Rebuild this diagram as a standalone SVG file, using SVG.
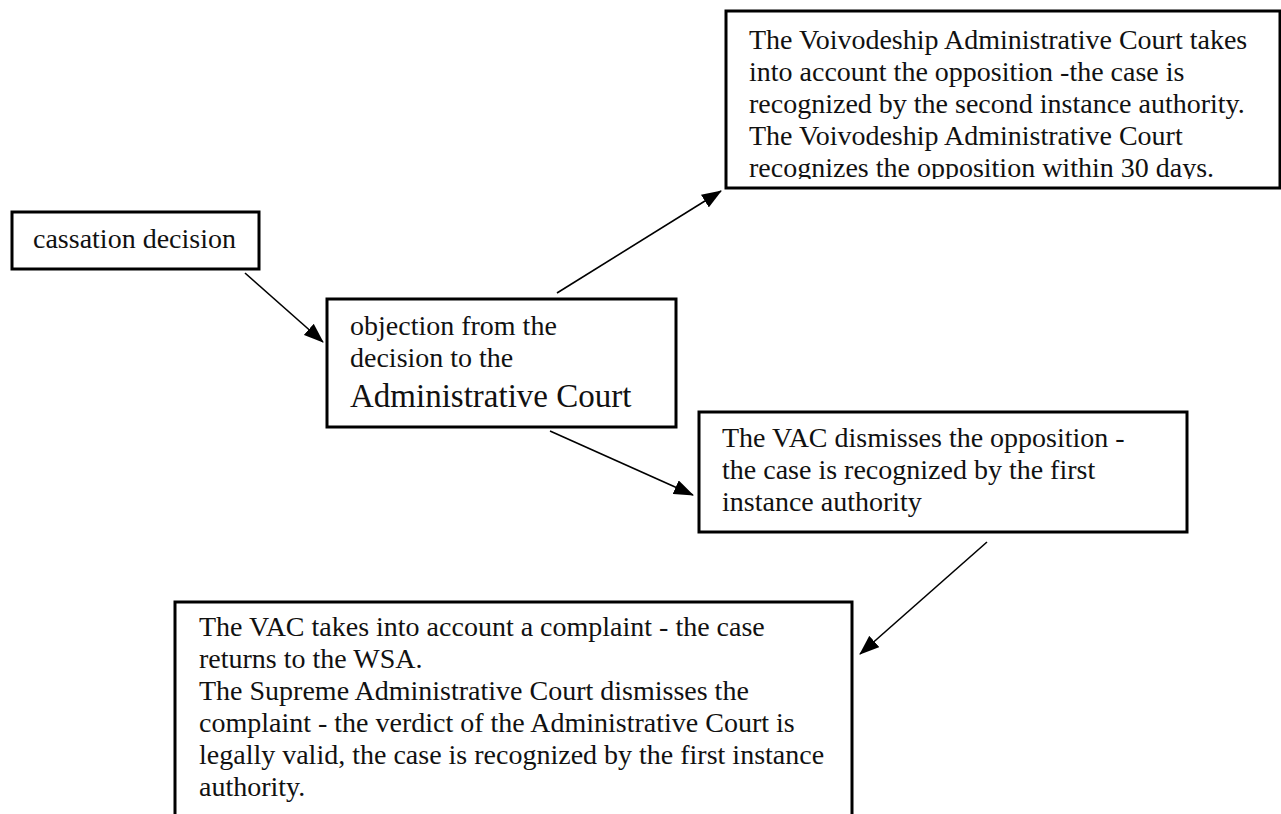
<svg xmlns="http://www.w3.org/2000/svg" width="1281" height="814" viewBox="0 0 1281 814">
<style>
.box{fill:#fff;stroke:#000;stroke-width:3}
.t{font-family:"Liberation Serif","Times New Roman",serif;font-size:28px;fill:#111}
.big{font-size:33px}
.con{stroke:#000;stroke-width:1.6;fill:none}
</style>
<defs>
<marker id="ah" markerUnits="userSpaceOnUse" markerWidth="20" markerHeight="15" viewBox="0 0 20 15" refX="19" refY="7.5" orient="auto">
<path d="M0,0 L20,7.5 L0,15 Z" fill="#000"/>
</marker>
<clipPath id="clipTop"><rect x="726" y="11" width="554" height="168"/></clipPath>
</defs>
<rect width="1281" height="814" fill="#fff"/>
<g id="n-top">
<rect class="box" x="726" y="11" width="554" height="177"/>
<g clip-path="url(#clipTop)">
<text class="t" x="749" y="49">The Voivodeship Administrative Court takes</text>
<text class="t" x="749" y="81">into account the opposition -the case is</text>
<text class="t" x="749" y="113">recognized by the second instance authority.</text>
<text class="t" x="749" y="145">The Voivodeship Administrative Court</text>
<text class="t" x="749" y="177">recognizes the opposition within 30 days.</text>
</g>
</g>
<g id="n-cassation">
<rect class="box" x="12" y="212" width="247" height="57"/>
<text class="t" x="33" y="248">cassation decision</text>
</g>
<g id="n-objection">
<rect class="box" x="327" y="299" width="349" height="128"/>
<text class="t" x="350" y="335">objection from the</text>
<text class="t" x="350" y="367">decision to the</text>
<text class="t big" x="350" y="407">Administrative Court</text>
</g>
<g id="n-vac">
<rect class="box" x="699" y="412" width="488" height="120"/>
<text class="t" x="722" y="447">The VAC dismisses the opposition -</text>
<text class="t" x="722" y="479">the case is recognized by the first</text>
<text class="t" x="722" y="511">instance authority</text>
</g>
<g id="n-bottom">
<rect class="box" x="175" y="602" width="677" height="230"/>
<text class="t" x="199" y="636">The VAC takes into account a complaint - the case</text>
<text class="t" x="199" y="668">returns to the WSA.</text>
<text class="t" x="199" y="700">The Supreme Administrative Court dismisses the</text>
<text class="t" x="199" y="732">complaint - the verdict of the Administrative Court is</text>
<text class="t" x="199" y="764">legally valid, the case is recognized by the first instance</text>
<text class="t" x="199" y="796">authority.</text>
</g>
<g id="connectors">
<line class="con" x1="245" y1="273" x2="323" y2="342" marker-end="url(#ah)"/>
<line class="con" x1="557" y1="293" x2="721" y2="191" marker-end="url(#ah)"/>
<line class="con" x1="550" y1="431" x2="693" y2="495" marker-end="url(#ah)"/>
<line class="con" x1="987" y1="542" x2="860" y2="654" marker-end="url(#ah)"/>
</g>
</svg>
